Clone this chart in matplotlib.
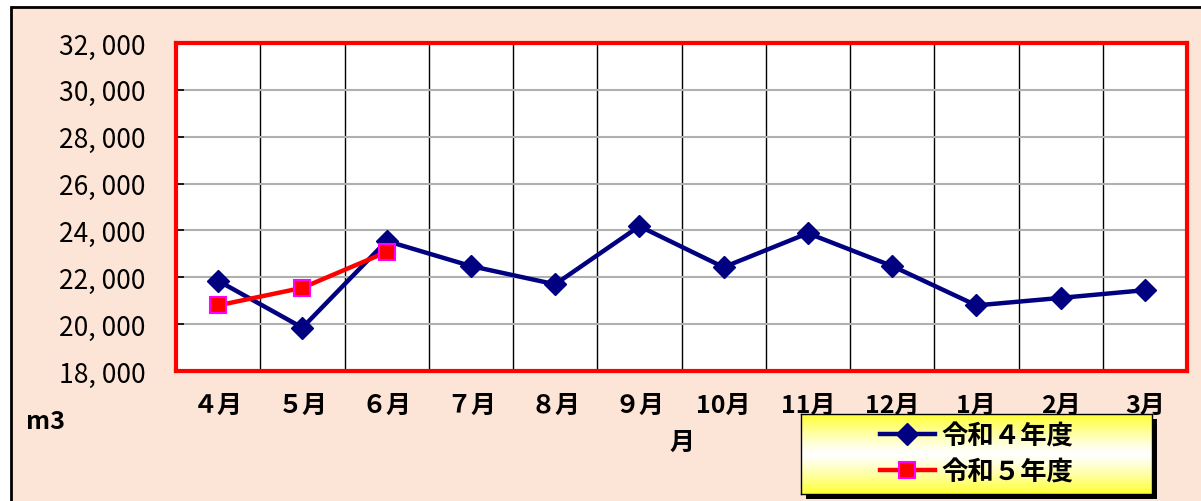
import numpy as np
import matplotlib
matplotlib.use("Agg")
import matplotlib.pyplot as plt
from matplotlib.patches import Rectangle
from matplotlib.lines import Line2D

plt.rcParams['font.family'] = ['Noto Sans CJK JP', 'DejaVu Sans']

# data (m3 per month)
months = ['４月', '５月', '６月', '７月', '８月', '９月', '10月', '11月', '12月', '1月', '2月', '3月']
r4_values = [21850, 19850, 23550, 22480, 21700, 24180, 22430, 23880, 22480, 20800, 21120, 21450]
r5_values = [20800, 21550, 23080]
series_names = ['令和４年度', '令和５年度']
y_ticks = [18000, 20000, 22000, 24000, 26000, 28000, 30000, 32000]

W, H = 1201, 502
fig = plt.figure(figsize=(W / 100, H / 100), dpi=100, facecolor='white')

# peach background with black frame (right/bottom cut off in the picture)
bg = Rectangle((11 / W, -0.1), 1.2, (H - 8) / H + 0.1, transform=fig.transFigure,
               facecolor='#FCE4D6', edgecolor='black', linewidth=2, zorder=-10)
fig.patches.append(bg)

ax = fig.add_axes([176 / W, (H - 372) / H, (1187 - 176) / W, (372 - 44) / H])
ax.set_facecolor('white')
x = np.arange(len(months))

ax.plot(x, r4_values, color='#000080', linewidth=3.2, marker='D', markersize=11,
        markerfacecolor='#000080', markeredgecolor='#000080', zorder=3)
ax.plot(x[:len(r5_values)], r5_values, color='#FF0000', linewidth=3.2, marker='s', markersize=12,
        markerfacecolor='#FF0000', markeredgecolor='#FF00FF', markeredgewidth=1.5, zorder=4)

ax.set_xlim(-0.5, len(months) - 0.5)
ax.set_ylim(18000, 32000)
ax.set_yticks(y_ticks)
ax.set_yticklabels([f"{v // 1000}, {v % 1000:03d}" for v in y_ticks], fontsize=19)
ax.set_xticks(x)
ax.set_xticklabels(months, fontsize=18, fontweight='bold')
ax.set_xticks(np.arange(len(months) + 1) - 0.5, minor=True)

# gridlines: grey horizontals, black verticals between months
ax.grid(axis='y', which='major', color='#B0B0B0', linewidth=1.5, zorder=1)
ax.grid(axis='x', which='minor', color='black', linewidth=1, zorder=1)
ax.grid(axis='x', which='major', visible=False)
ax.tick_params(axis='y', direction='in', length=6, width=1.2, color='black', pad=22)
ax.tick_params(axis='x', which='both', length=0, pad=16)

for sp in ax.spines.values():
    sp.set_color('#FF0000')
    sp.set_linewidth(3)

ax.set_xlabel('月', fontsize=18, fontweight='bold', labelpad=9)
fig.text(26 / W, 1 - 422 / H, 'm3', fontsize=18, fontweight='bold', va='center', ha='left')

# legend box with yellow-white-yellow gradient and drop shadow
lx0, lx1, ly0, ly1 = 801, 1152, 415, 495
shadow = Rectangle(((lx0 + 5) / W, 1 - (ly1 + 5) / H), (lx1 - lx0) / W, (ly1 - ly0) / H,
                   transform=fig.transFigure, facecolor='black', edgecolor='none', zorder=5)
fig.patches.append(shadow)
lax = fig.add_axes([lx0 / W, 1 - ly1 / H, (lx1 - lx0) / W, (ly1 - ly0) / H], zorder=6)
grad = np.abs(np.linspace(-1, 1, 100))[:, None] ** 1.2
cmap = matplotlib.colors.LinearSegmentedColormap.from_list('yw', ['#FFFFFF', '#FFFF33'])
lax.imshow(grad, aspect='auto', cmap=cmap, extent=[0, 1, 0, 1])
lax.set_xticks([])
lax.set_yticks([])
for sp in lax.spines.values():
    sp.set_color('black')
    sp.set_linewidth(1)

handles = [
    Line2D([], [], color='#000080', linewidth=3.2, marker='D', markersize=11,
           markerfacecolor='#000080', markeredgecolor='#000080'),
    Line2D([], [], color='#FF0000', linewidth=3.2, marker='s', markersize=12,
           markerfacecolor='#FF0000', markeredgecolor='#FF00FF', markeredgewidth=1.5),
]
leg = lax.legend(handles, series_names, loc='center', bbox_to_anchor=(0.5, 0.5),
                 frameon=False, handlelength=2.1, handletextpad=0.25, labelspacing=0.35,
                 borderpad=0.2, prop={'size': 19, 'weight': 'bold'})

fig.savefig('out.png', dpi=100, facecolor='white')
